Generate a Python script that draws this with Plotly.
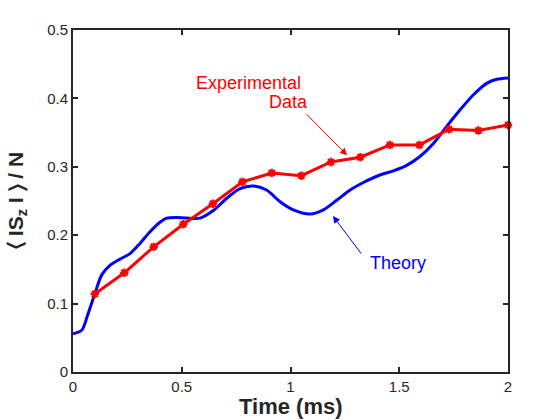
import plotly.graph_objects as go

# Experimental data
exp_t = [0.10, 0.236, 0.371, 0.507, 0.643, 0.779, 0.914, 1.05, 1.186, 1.321, 1.457, 1.593, 1.729, 1.864, 2.0]
exp_v = [0.114, 0.145, 0.183, 0.216, 0.246, 0.278, 0.291, 0.287, 0.307, 0.314, 0.332, 0.332, 0.355, 0.353, 0.361]

# Theory curve
th_t = [0.0, 0.04, 0.07, 0.10, 0.132, 0.17, 0.216, 0.262, 0.308, 0.354, 0.40, 0.431, 0.477, 0.523,
        0.584, 0.645, 0.707, 0.768, 0.829, 0.89, 0.952, 1.013, 1.09, 1.151, 1.212, 1.274, 1.335,
        1.411, 1.473, 1.534, 1.595, 1.657, 1.718, 1.779, 1.84, 1.902, 1.948, 2.0]
th_v = [0.056, 0.061, 0.086, 0.114, 0.142, 0.156, 0.165, 0.173, 0.188, 0.205, 0.219, 0.225, 0.226, 0.225,
        0.225, 0.236, 0.254, 0.268, 0.272, 0.266, 0.249, 0.237, 0.231, 0.237, 0.251, 0.266, 0.277,
        0.288, 0.294, 0.302, 0.315, 0.334, 0.359, 0.383, 0.405, 0.422, 0.428, 0.430]

x_ticks = [0, 0.5, 1, 1.5, 2]
x_labels = ["0", "0.5", "1", "1.5", "2"]
y_ticks = [0, 0.1, 0.2, 0.3, 0.4, 0.5]
y_labels = ["0", "0.1", "0.2", "0.3", "0.4", "0.5"]

FONT = "Liberation Sans, Arial, Helvetica, sans-serif"
AX = "#262626"

fig = go.Figure()
fig.add_trace(go.Scatter(x=th_t, y=th_v, mode="lines",
                         line=dict(color="#0000ff", width=3, shape="spline", smoothing=0.8),
                         showlegend=False, hoverinfo="skip"))
fig.add_trace(go.Scatter(x=exp_t, y=exp_v, mode="lines+markers",
                         line=dict(color="#ff0000", width=3),
                         marker=dict(symbol="asterisk-open", size=7, color="#ff0000",
                                     line=dict(color="#ff0000", width=2.2)),
                         showlegend=False, hoverinfo="skip", cliponaxis=False))

# Arrows
fig.add_annotation(x=1.26, y=0.317, xref="x", yref="y", ax=1.067, ay=0.379, axref="x", ayref="y",
                   text="", showarrow=True, arrowhead=2, arrowsize=1.4, arrowwidth=1, arrowcolor="#ff0000")
fig.add_annotation(x=1.195, y=0.228, xref="x", yref="y", ax=1.33, ay=0.171, axref="x", ayref="y",
                   text="", showarrow=True, arrowhead=2, arrowsize=1.4, arrowwidth=1, arrowcolor="#0000ff")

# Text labels
fig.add_annotation(x=0.556, y=0.4225, xref="x", yref="y", xanchor="left", yanchor="middle",
                   text="Experimental", showarrow=False,
                   font=dict(family=FONT, size=18, color="#ff0000"))
fig.add_annotation(x=0.892, y=0.395, xref="x", yref="y", xanchor="left", yanchor="middle",
                   text="Data", showarrow=False,
                   font=dict(family=FONT, size=18, color="#ff0000"))
fig.add_annotation(x=1.356, y=0.159, xref="x", yref="y", xanchor="left", yanchor="middle",
                   text="Theory", showarrow=False,
                   font=dict(family=FONT, size=18, color="#0000ff"))

# Axis titles
fig.add_annotation(x=0.5, y=0, xref="paper", yref="paper", xanchor="center", yanchor="middle",
                   yshift=-34, text="<b>Time (ms)</b>", showarrow=False,
                   font=dict(family=FONT, size=22, color=AX))
fig.add_annotation(x=0, y=0.5, xref="paper", yref="paper", xanchor="center", yanchor="middle",
                   xshift=-56, textangle=-90,
                   text="<b>\u2329 IS<sub>z</sub> I \u232a / N</b>", showarrow=False,
                   font=dict(family=FONT, size=21, color=AX))

axis_common = dict(showline=True, linecolor=AX, linewidth=2, mirror="ticks", ticks="inside",
                   ticklen=5, tickwidth=2, tickcolor=AX, showgrid=False, zeroline=False,
                   tickfont=dict(family=FONT, size=15, color=AX))

fig.update_xaxes(range=[0, 2], tickvals=x_ticks, ticktext=x_labels, **axis_common)
fig.update_yaxes(range=[0, 0.5], tickvals=y_ticks, ticktext=y_labels, **axis_common)

fig.update_layout(width=560, height=420, margin=dict(l=73, r=52, t=30, b=48),
                  paper_bgcolor="white", plot_bgcolor="white")

fig.write_html("out.html")
